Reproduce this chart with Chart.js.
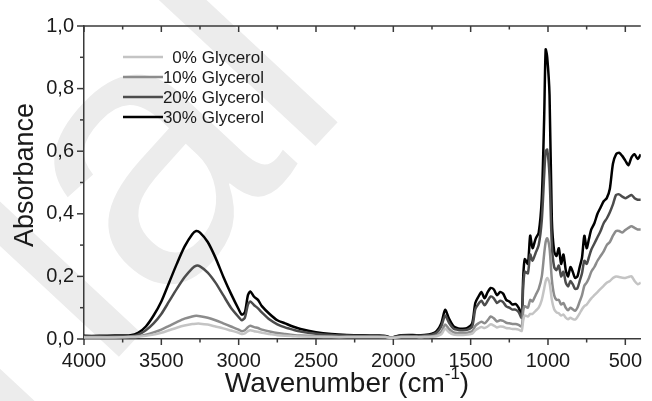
<!DOCTYPE html>
<html>
<head>
<meta charset="utf-8">
<script src="https://cdn.jsdelivr.net/npm/chart.js@4"></script>
<style>
  html, body { margin: 0; padding: 0; background: #fff; }
  #wrap { width: 652px; height: 401px; }
</style>
</head>
<body>
<div id="wrap"><canvas id="ftir" width="652" height="401"></canvas></div>
<script>
// FTIR spectra, values
const wavenumbers = [4000, 3900, 3800, 3700, 3650, 3600, 3550, 3500, 3450, 3400, 3350, 3300, 3275, 3250, 3200, 3150, 3100, 3050, 3000, 2980, 2960, 2940, 2925, 2900, 2875, 2850, 2800, 2750, 2700, 2650, 2600, 2500, 2400, 2300, 2200, 2100, 2050, 2020, 2000, 1950, 1900, 1850, 1800, 1750, 1720, 1690, 1665, 1640, 1610, 1580, 1550, 1520, 1490, 1470, 1450, 1430, 1410, 1390, 1370, 1350, 1330, 1310, 1290, 1270, 1250, 1230, 1210, 1190, 1170, 1160, 1150, 1130, 1115, 1100, 1080, 1060, 1040, 1025, 1015, 1005, 990, 975, 960, 945, 930, 915, 900, 885, 870, 855, 840, 825, 810, 795, 780, 765, 750, 735, 720, 700, 680, 660, 640, 620, 600, 580, 560, 540, 520, 500, 480, 460, 440, 420, 400];

const glycerol0 = [0.005, 0.005, 0.005, 0.006, 0.007, 0.010, 0.014, 0.020, 0.028, 0.036, 0.043, 0.048, 0.049, 0.049, 0.046, 0.040, 0.034, 0.027, 0.020, 0.016, 0.018, 0.025, 0.028, 0.025, 0.023, 0.020, 0.016, 0.012, 0.010, 0.009, 0.008, 0.007, 0.006, 0.006, 0.006, 0.006, 0.006, 0.004, 0.004, 0.006, 0.006, 0.006, 0.006, 0.007, 0.009, 0.015, 0.033, 0.022, 0.014, 0.013, 0.013, 0.014, 0.017, 0.028, 0.034, 0.038, 0.035, 0.040, 0.047, 0.043, 0.037, 0.040, 0.039, 0.035, 0.034, 0.032, 0.032, 0.030, 0.026, 0.060, 0.075, 0.072, 0.080, 0.080, 0.090, 0.100, 0.125, 0.160, 0.185, 0.195, 0.180, 0.125, 0.095, 0.085, 0.082, 0.075, 0.078, 0.068, 0.063, 0.068, 0.064, 0.062, 0.070, 0.082, 0.095, 0.105, 0.110, 0.120, 0.130, 0.140, 0.150, 0.160, 0.170, 0.180, 0.185, 0.195, 0.200, 0.198, 0.196, 0.195, 0.198, 0.200, 0.185, 0.175, 0.180];

const glycerol10 = [0.006, 0.006, 0.006, 0.007, 0.009, 0.014, 0.021, 0.030, 0.042, 0.054, 0.065, 0.072, 0.074, 0.073, 0.068, 0.060, 0.050, 0.040, 0.030, 0.025, 0.028, 0.038, 0.042, 0.038, 0.035, 0.030, 0.024, 0.019, 0.016, 0.013, 0.011, 0.009, 0.008, 0.007, 0.007, 0.007, 0.006, 0.004, 0.005, 0.007, 0.007, 0.007, 0.008, 0.009, 0.012, 0.022, 0.046, 0.032, 0.021, 0.019, 0.019, 0.020, 0.025, 0.042, 0.050, 0.055, 0.050, 0.060, 0.072, 0.066, 0.056, 0.060, 0.058, 0.052, 0.050, 0.048, 0.048, 0.045, 0.040, 0.090, 0.105, 0.100, 0.125, 0.120, 0.140, 0.160, 0.200, 0.270, 0.310, 0.322, 0.290, 0.190, 0.140, 0.125, 0.125, 0.110, 0.115, 0.100, 0.092, 0.100, 0.095, 0.090, 0.100, 0.120, 0.140, 0.170, 0.180, 0.195, 0.215, 0.230, 0.250, 0.265, 0.280, 0.300, 0.310, 0.330, 0.345, 0.345, 0.340, 0.348, 0.355, 0.360, 0.355, 0.350, 0.350];

const glycerol20 = [0.008, 0.008, 0.008, 0.009, 0.014, 0.028, 0.050, 0.080, 0.120, 0.160, 0.197, 0.226, 0.234, 0.232, 0.212, 0.180, 0.140, 0.100, 0.070, 0.060, 0.068, 0.110, 0.120, 0.108, 0.098, 0.085, 0.062, 0.047, 0.037, 0.030, 0.024, 0.017, 0.013, 0.011, 0.010, 0.009, 0.009, 0.005, 0.006, 0.010, 0.010, 0.010, 0.011, 0.014, 0.020, 0.040, 0.075, 0.052, 0.033, 0.029, 0.028, 0.030, 0.040, 0.095, 0.112, 0.122, 0.108, 0.122, 0.136, 0.130, 0.115, 0.122, 0.118, 0.104, 0.100, 0.094, 0.094, 0.086, 0.068, 0.170, 0.215, 0.210, 0.270, 0.250, 0.275, 0.300, 0.380, 0.520, 0.600, 0.605, 0.520, 0.300, 0.230, 0.220, 0.235, 0.200, 0.215, 0.180, 0.168, 0.185, 0.175, 0.160, 0.162, 0.185, 0.210, 0.250, 0.240, 0.262, 0.285, 0.305, 0.325, 0.345, 0.370, 0.385, 0.405, 0.430, 0.460, 0.462, 0.455, 0.450, 0.455, 0.460, 0.450, 0.445, 0.445];

const glycerol30 = [0.010, 0.010, 0.011, 0.012, 0.020, 0.040, 0.075, 0.120, 0.180, 0.240, 0.295, 0.335, 0.345, 0.340, 0.310, 0.260, 0.200, 0.145, 0.095, 0.078, 0.085, 0.140, 0.152, 0.135, 0.125, 0.105, 0.080, 0.060, 0.050, 0.040, 0.032, 0.022, 0.016, 0.013, 0.012, 0.011, 0.010, 0.005, 0.006, 0.012, 0.013, 0.012, 0.013, 0.017, 0.025, 0.050, 0.093, 0.065, 0.040, 0.034, 0.033, 0.036, 0.050, 0.115, 0.135, 0.150, 0.130, 0.150, 0.163, 0.158, 0.140, 0.150, 0.145, 0.125, 0.120, 0.110, 0.112, 0.100, 0.078, 0.200, 0.255, 0.240, 0.330, 0.290, 0.320, 0.340, 0.450, 0.700, 0.925, 0.900, 0.780, 0.380, 0.280, 0.265, 0.290, 0.240, 0.270, 0.220, 0.200, 0.230, 0.215, 0.195, 0.200, 0.230, 0.260, 0.330, 0.290, 0.320, 0.350, 0.370, 0.400, 0.420, 0.440, 0.450, 0.480, 0.560, 0.590, 0.595, 0.585, 0.570, 0.555, 0.580, 0.590, 0.575, 0.590];

const seriesLabels = ['0% Glycerol', '10% Glycerol', '20% Glycerol', '30% Glycerol'];
const seriesColors = ['#c4c4c4', '#8c8c8c', '#4c4c4c', '#000000'];

const xTicks = [4000, 3500, 3000, 2500, 2000, 1500, 1000, 500];
const yTicks = [0, 0.2, 0.4, 0.6, 0.8, 1.0];

const FONT = '"Liberation Sans", Arial, sans-serif';
const AXIS_COLOR = '#3a3a3a';

function toPoints(values) {
    return values.map((v, i) => ({ x: wavenumbers[i], y: v }));
}

// faint diagonal watermark behind the plot
const watermarkPlugin = {
    id: 'watermark',
    beforeDraw(chart) {
        const ctx = chart.ctx;
        ctx.save();
        ctx.translate(18, 465);
        ctx.rotate(-47 * Math.PI / 180);
        ctx.fillStyle = '#ececec';
        ctx.font = '370px ' + FONT;
        ctx.textBaseline = 'alphabetic';
        ctx.fillText('rial', 0, 0);
        ctx.restore();
    }
};

// axis frame, minor ticks, titles and legend
const decorPlugin = {
    id: 'decor',
    afterDraw(chart) {
        const ctx = chart.ctx;
        const area = chart.chartArea;
        const xs = chart.scales.x;
        const ys = chart.scales.y;

        ctx.save();
        ctx.strokeStyle = AXIS_COLOR;
        ctx.lineWidth = 1.5;

        // top frame line
        ctx.beginPath();
        ctx.moveTo(area.left, area.top);
        ctx.lineTo(area.right, area.top);
        ctx.stroke();

        // x ticks: outward at bottom, inward at top
        for (let w = 4000; w >= 400; w -= 250) {
            const px = xs.getPixelForValue(w);
            const major = w % 500 === 0;
            ctx.beginPath();
            ctx.moveTo(px, area.bottom);
            ctx.lineTo(px, area.bottom + (major ? 6 : 3.5));
            ctx.moveTo(px, area.top);
            ctx.lineTo(px, area.top + (major ? 6 : 3.5));
            ctx.stroke();
        }
        // y ticks: outward
        for (let k = 0; k <= 10; k++) {
            const py = ys.getPixelForValue(k / 10);
            const major = k % 2 === 0;
            ctx.beginPath();
            ctx.moveTo(area.left, py);
            ctx.lineTo(area.left - (major ? 7 : 4), py);
            ctx.stroke();
        }

        // axis titles
        ctx.fillStyle = '#1a1a1a';
        ctx.font = '28px ' + FONT;
        ctx.textBaseline = 'alphabetic';
        const main = 'Wavenumber (cm';
        const sup = '-1';
        const tail = ')';
        const wMain = ctx.measureText(main).width;
        const wTail = ctx.measureText(tail).width;
        ctx.font = '17px ' + FONT;
        const wSup = ctx.measureText(sup).width;
        const total = wMain + wSup + wTail;
        const tx = 347 - total / 2;
        const baseY = 392;
        ctx.font = '28px ' + FONT;
        ctx.textAlign = 'left';
        ctx.fillText(main, tx, baseY);
        ctx.font = '17px ' + FONT;
        ctx.fillText(sup, tx + wMain, baseY - 13);
        ctx.font = '28px ' + FONT;
        ctx.fillText(tail, tx + wMain + wSup, baseY);

        ctx.save();
        ctx.translate(33, 175);
        ctx.rotate(-Math.PI / 2);
        ctx.textAlign = 'center';
        ctx.font = '27px ' + FONT;
        ctx.fillText('Absorbance', 0, 0);
        ctx.restore();

        // legend
        ctx.font = '17px ' + FONT;
        ctx.textAlign = 'right';
        ctx.textBaseline = 'middle';
        seriesLabels.forEach((label, i) => {
            const rowY = 57 + i * 20;
            ctx.strokeStyle = seriesColors[i];
            ctx.lineWidth = 2.5;
            ctx.beginPath();
            ctx.moveTo(123, rowY);
            ctx.lineTo(163, rowY);
            ctx.stroke();
            ctx.fillStyle = '#1a1a1a';
            ctx.fillText(label, 264, rowY + 1);
        });
        ctx.restore();
    }
};

const ctx = document.getElementById('ftir').getContext('2d');
new Chart(ctx, {
    type: 'line',
    data: {
        datasets: seriesLabels.map((label, i) => ({
            label: label,
            data: toPoints([glycerol0, glycerol10, glycerol20, glycerol30][i]),
            borderColor: seriesColors[i],
            borderWidth: 2.5,
            pointRadius: 0,
            fill: false,
            tension: 0.25
        }))
    },
    options: {
        responsive: false,
        animation: false,
        layout: {
            autoPadding: false,
            padding: { top: 26, right: 0, bottom: 0, left: 0 }
        },
        plugins: {
            legend: { display: false },
            tooltip: { enabled: false }
        },
        scales: {
            x: {
                type: 'linear',
                reverse: true,
                min: 400,
                max: 4000,
                afterFit: scale => { scale.height = 62; },
                afterBuildTicks: scale => { scale.ticks = xTicks.map(v => ({ value: v })); },
                grid: { display: false, drawTicks: false },
                border: { display: true, color: AXIS_COLOR, width: 1.5 },
                ticks: {
                    padding: 10,
                    maxRotation: 0,
                    autoSkip: false,
                    color: '#1a1a1a',
                    font: { family: FONT, size: 20 },
                    callback: v => String(v)
                }
            },
            y: {
                min: 0,
                max: 1.0,
                afterFit: scale => { scale.width = 84; },
                afterBuildTicks: scale => { scale.ticks = yTicks.map(v => ({ value: v })); },
                grid: { display: false, drawTicks: false },
                border: { display: true, color: AXIS_COLOR, width: 1.5 },
                ticks: {
                    padding: 10,
                    color: '#1a1a1a',
                    font: { family: FONT, size: 20 },
                    callback: v => v.toFixed(1).replace('.', ',')
                }
            }
        }
    },
    plugins: [watermarkPlugin, decorPlugin]
});
</script>
</body>
</html>
